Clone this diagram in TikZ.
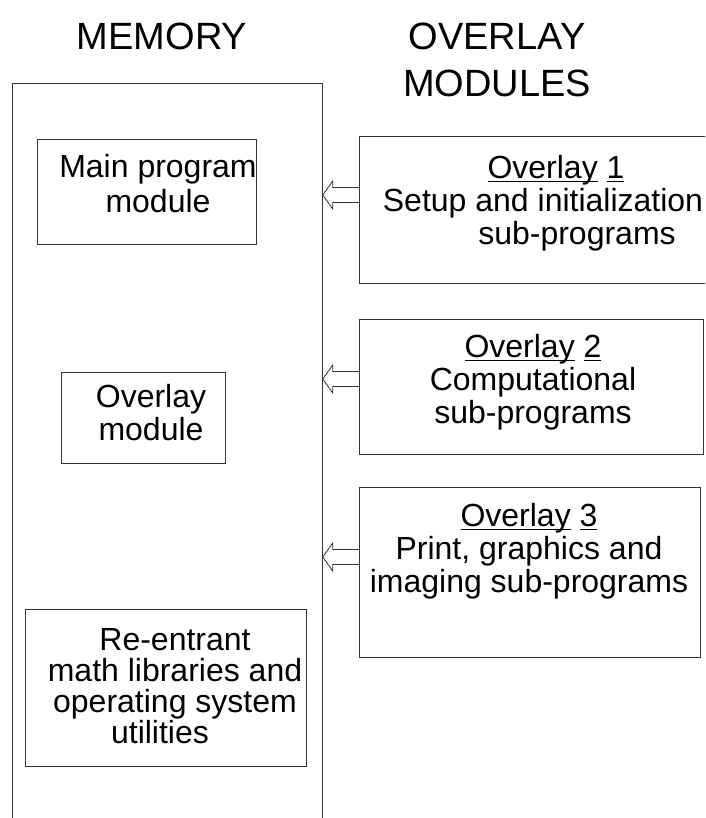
\documentclass[tikz,border=0pt]{standalone}
\usepackage{fontspec}
\setmainfont{Liberation Sans}
\usetikzlibrary{calc}
\newcommand{\ulword}[1]{\underline{\smash{#1}\rule[-2pt]{0pt}{0pt}}}

\begin{document}
\begin{tikzpicture}[x=1pt,y=-1pt,line width=0.8pt]
    \tikzstyle{module}=[draw=black!80,rectangle,anchor=north west,inner sep=0pt]
    \tikzstyle{annot}=[align=center,inner sep=0pt,anchor=base,font=\fontsize{32}{33}\selectfont]
    \tikzstyle{heading}=[align=center,inner sep=0pt,anchor=north,font=\fontsize{38}{47}\selectfont]
    \tikzstyle{block arrow}=[draw=black!80,line join=miter]

    \useasboundingbox (0,0) rectangle (705,818);
    \clip (0,0) rectangle (705,818);

    % Column headings
    \node[heading] (mem-head) at (162,23) {MEMORY};
    \node[heading] (ovl-head) at (497,23) {OVERLAY\\MODULES};

    % Memory and what it holds
    \node[module,minimum width=310pt,minimum height=760pt] (mem) at (12,83) {};
    \node[module,minimum width=219pt,minimum height=105pt] (main) at (37,139) {};
    \node[module,minimum width=164pt,minimum height=91pt] (ovlmod) at (61,372) {};
    \node[module,minimum width=281pt,minimum height=157pt] (libs) at (25,609) {};
    \node[annot,font=\fontsize{32}{35}\selectfont] (main-txt) at (158,213) {Main program\\module};
    \node[annot] (ovlmod-txt) at (151,440) {Overlay\\module};
    \node[annot,font=\fontsize{32}{31}\selectfont] (libs-txt) at (175,743)
        {Re-entrant\\math libraries and\\operating system\\utilities\hspace*{30pt}};

    % Overlay modules
    \node[module,minimum width=350pt,minimum height=147pt] (ov1) at (359,136) {};
    \node[module,minimum width=344pt,minimum height=135pt] (ov2) at (359,319) {};
    \node[module,minimum width=341pt,minimum height=170pt] (ov3) at (359,487) {};
    \node[annot] (ov1-txt) at (543,244)
        {\hspace*{26pt}\ulword{Overlay} \ulword{1}\\Setup and initialization\\\hspace*{68pt}sub-programs};
    \node[annot] (ov2-txt) at (533,423)
        {\ulword{Overlay} \ulword{2}\\Computational\\sub-programs};
    \node[annot] (ov3-txt) at (529,592)
        {\ulword{Overlay} \ulword{3}\\Print, graphics and\\imaging sub-programs};

    % Loading arrows
    \foreach \src/\y in {ov1/195,ov2/379,ov3/557}
        \draw[block arrow] ($(\src.west |- 0,\y)+(0,-7.5)$) -- ($(mem.east |- 0,\y)+(10,-7.5)$)
            -- ++(0,-6.5) -- (mem.east |- 0,\y) -- ++(10,14) -- ++(0,-6.5)
            -- ($(\src.west |- 0,\y)+(0,7.5)$);
\end{tikzpicture}
\end{document}
